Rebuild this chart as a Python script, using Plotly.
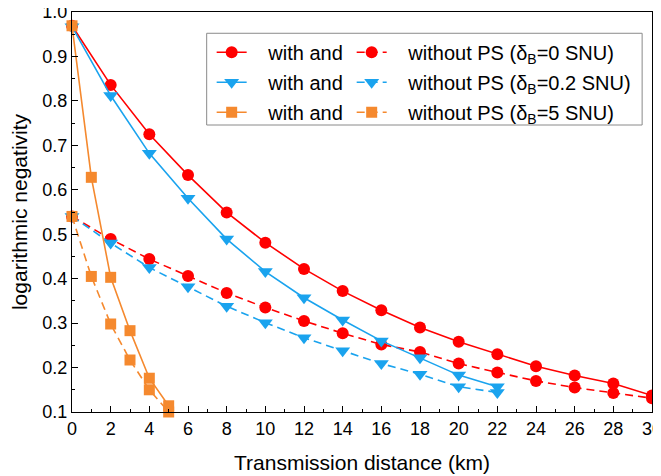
import plotly.graph_objects as go

# ---- data ----
x_km = [0, 2, 4, 6, 8, 10, 12, 14, 16, 18, 20, 22, 24, 26, 28, 30]
ln_d0_ps = [0.969, 0.836, 0.725, 0.633, 0.549, 0.481, 0.422, 0.372, 0.329, 0.290,
            0.258, 0.230, 0.203, 0.182, 0.164, 0.137]
ln_d0_nops = [0.540, 0.489, 0.444, 0.406, 0.368, 0.335, 0.305, 0.277, 0.252, 0.235,
              0.209, 0.189, 0.170, 0.155, 0.143, 0.131]

x_km_b = [0, 2, 4, 6, 8, 10, 12, 14, 16, 18, 20, 22]
ln_d02_ps = [0.967, 0.812, 0.682, 0.581, 0.489, 0.416, 0.357, 0.307, 0.260, 0.222,
             0.183, 0.157]
ln_d02_nops = [0.540, 0.480, 0.425, 0.382, 0.338, 0.301, 0.267, 0.238, 0.209, 0.185,
               0.157, 0.144]

x_km_o = [0, 1, 2, 3, 4, 5]
ln_d5_ps = [0.969, 0.628, 0.403, 0.283, 0.176, 0.114]
ln_d5_nops = [0.540, 0.405, 0.298, 0.217, 0.150, 0.100]

x_ticks = list(range(0, 31, 2))
y_ticks = [0.1, 0.2, 0.3, 0.4, 0.5, 0.6, 0.7, 0.8, 0.9, 1.0]

RED = "#FF0000"
BLUE = "#1AA3EE"
ORANGE = "#F5892E"
FONT = "Liberation Sans, Arial, sans-serif"
NB = "\u00a0\u00a0\u00a0"

series = [
    (x_km, ln_d0_ps, ln_d0_nops, RED, "circle", 12, "0"),
    (x_km_b, ln_d02_ps, ln_d02_nops, BLUE, "triangle-down", 13, "0.2"),
    (x_km_o, ln_d5_ps, ln_d5_nops, ORANGE, "square", 11, "5"),
]

fig = go.Figure()
for i, (xs, ps, nops, col, sym, ms, dl) in enumerate(series):
    fig.add_trace(go.Scatter(
        x=xs, y=ps, mode="lines+markers", name=NB + "with and",
        line=dict(color=col, width=1.6),
        marker=dict(symbol=sym, size=ms, color=col),
        legend="legend", legendgroup=f"a{i}", cliponaxis=False,
    ))
    fig.add_trace(go.Scatter(
        x=xs, y=nops, mode="lines+markers",
        name=NB + f"without PS (δ<sub>B</sub>={dl} SNU)",
        line=dict(color=col, width=1.6, dash="8px,5px"),
        marker=dict(symbol=sym, size=ms, color=col),
        legend="legend2", legendgroup=f"b{i}", cliponaxis=False,
    ))

axis_common = dict(
    showline=True, linecolor="black", linewidth=1.2, mirror=True,
    ticks="inside", ticklen=6, tickwidth=1.2, tickcolor="black",
    showgrid=False, zeroline=False, automargin=False,
    ticklabeloverflow="allow",
    tickfont=dict(family=FONT, size=18, color="black"),
)

fig.update_xaxes(
    range=[0, 30], tickvals=x_ticks,
    minor=dict(ticks="inside", dtick=1, ticklen=3, tickcolor="black", tickwidth=1.2),
    title=dict(text="Transmission distance (km)", font=dict(family=FONT, size=21, color="black"), standoff=17),
    **axis_common,
)
fig.update_yaxes(
    range=[0.1, 1.0], tickvals=y_ticks, tickformat=".1f",
    minor=dict(ticks="inside", dtick=0.05, ticklen=3, tickcolor="black", tickwidth=1.2),
    title=dict(text="logarithmic negativity", font=dict(family=FONT, size=21, color="black"), standoff=14),
    **axis_common,
)

legend_common = dict(
    bgcolor="rgba(0,0,0,0)", borderwidth=0, traceorder="grouped",
    tracegroupgap=1, yanchor="top", xanchor="left",
    font=dict(family=FONT, size=20, color="black"),
)

fig.update_layout(
    width=661, height=476,
    margin=dict(l=64, r=17, t=4, b=72),
    plot_bgcolor="white", paper_bgcolor="white",
    showlegend=True,
    legend=dict(x=0.2408, y=0.948, **legend_common),
    legend2=dict(x=0.4822, y=0.948, **legend_common),
    shapes=[dict(type="rect", xref="paper", yref="paper",
                 x0=0.2322, x1=0.983, y0=0.7175, y1=0.9468,
                 line=dict(color="#8a8a8a", width=1), layer="above")],
)

fig.write_html("out.html")
